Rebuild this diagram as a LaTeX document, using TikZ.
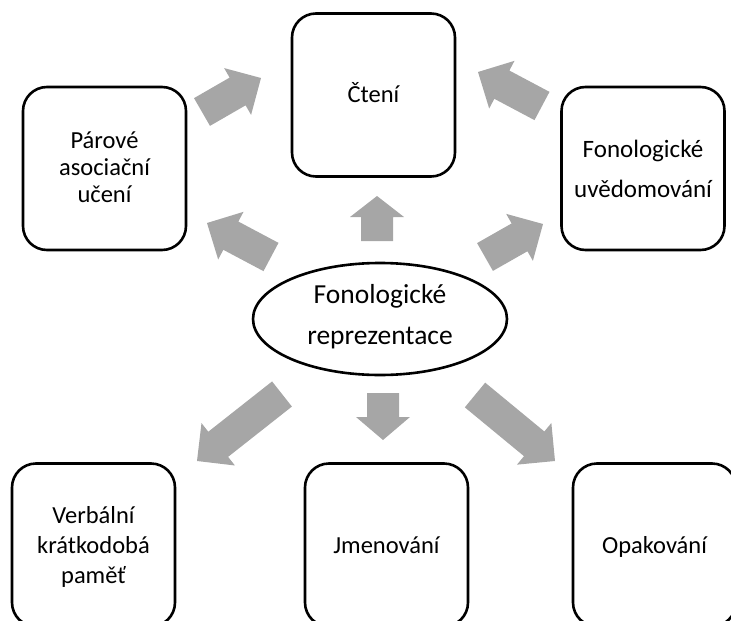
\documentclass[tikz,border=0pt]{standalone}
\usepackage{fontspec}
\setmainfont{Carlito}
\usetikzlibrary{calc,shapes.geometric}
\definecolor{arrowgray}{HTML}{A6A6A6}

% block arrow from tail coordinate #1 to tip coordinate #2, head length #3
\newcommand\blockarrow[3]{%
  \coordinate (hb) at ($(#2)!#3!(#1)$);
  \fill[arrowgray]
    ($(#1)!16pt!90:(#2)$) -- ($(hb)!16pt!90:(#2)$) -- ($(hb)!27pt!90:(#2)$) --
    (#2) --
    ($(hb)!27pt!-90:(#2)$) -- ($(hb)!16pt!-90:(#2)$) -- ($(#1)!16pt!-90:(#2)$) -- cycle;
}

\tikzset{
  box/.style={draw=black, line width=2.6pt, rounded corners=24pt,
    minimum width=163pt, minimum height=163pt, inner sep=0pt, align=center,
    font=\fontsize{24.5}{27}\selectfont},
  oval/.style={ellipse, draw=black, line width=2.6pt, minimum width=254pt,
    minimum height=112pt, inner sep=0pt, align=center,
    font=\fontsize{27.5}{41}\selectfont},
}

\begin{document}
\begin{tikzpicture}[x=1pt, y=-1pt]
  \useasboundingbox (0,0) rectangle (731,621);

  % boxes (text height/depth fix where the last baseline sits)
  \node[box, text height=15.4pt, text depth=0pt] (cteni) at (373.5,95) {Čtení};
  \node[box, text height=68.4pt, text depth=0pt] (parove) at (104.5,168.5) {Párové\\asociační\\učení};
  \node[box, font=\fontsize{25}{40}\selectfont, text height=58.6pt, text depth=0pt]
    (uvedom) at (643,168.5) {Fonologické\\uvědomování};
  \node[oval, text height=50.8pt, text depth=0pt] (repr) at (380,319) {Fonologické\\reprezentace};
  \node[box, font=\fontsize{24.5}{30}\selectfont, text height=77.4pt, text depth=0pt]
    (verbal) at (93.5,545) {Verbální\\krátkodobá\\paměť};
  \node[box, text height=17.4pt, text depth=0pt] (jmen) at (386.5,545) {Jmenování};
  \node[box, text height=17.4pt, text depth=0pt] (opak) at (654.5,545) {Opakování};

  % arrow end points
  \coordinate (a1t) at (202,112);  \coordinate (a1h) at (261,78);
  \coordinate (a2t) at (542,106);  \coordinate (a2h) at (478,72);
  \coordinate (a3t) at (271,257);  \coordinate (a3h) at (207,223);
  \coordinate (a4t) at (377,241);  \coordinate (a4h) at (377,196);
  \coordinate (a5t) at (485,257);  \coordinate (a5h) at (543,224);
  \coordinate (a6t) at (282,394);  \coordinate (a6h) at (197,461);
  \coordinate (a7t) at (383,393);  \coordinate (a7h) at (383,440);
  \coordinate (a8t) at (475,395);  \coordinate (a8h) at (555,461);

  \blockarrow{a1t}{a1h}{27pt}
  \blockarrow{a2t}{a2h}{27pt}
  \blockarrow{a3t}{a3h}{27pt}
  \blockarrow{a4t}{a4h}{21pt}
  \blockarrow{a5t}{a5h}{27pt}
  \blockarrow{a6t}{a6h}{27pt}
  \blockarrow{a7t}{a7h}{23pt}
  \blockarrow{a8t}{a8h}{27pt}
\end{tikzpicture}
\end{document}
